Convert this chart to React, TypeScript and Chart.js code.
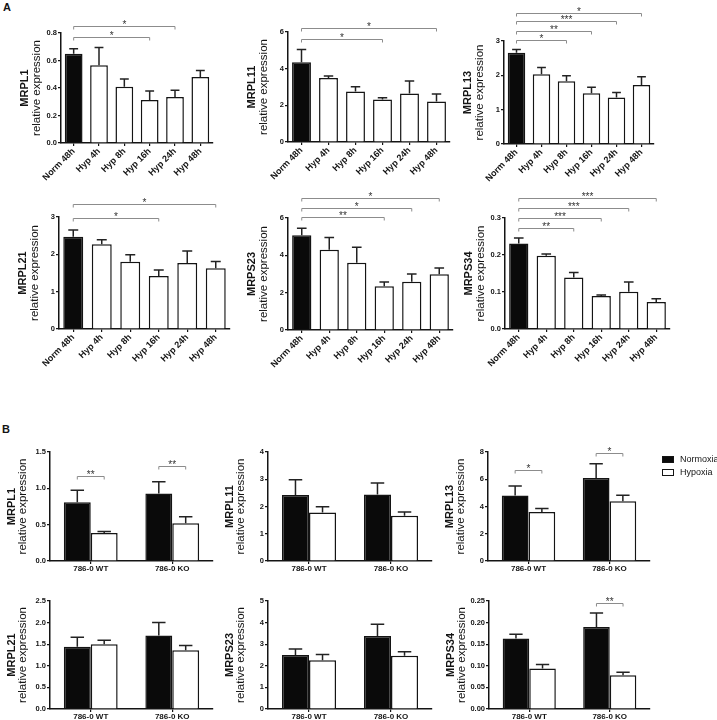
import React, { useEffect, useRef } from "react";
import { Chart, registerables } from "chart.js";
Chart.register(...registerables);

const FONT = "'Liberation Sans', Arial, Helvetica, sans-serif";

// ---------- categories / series ----------
const TIME_CATEGORIES = ["Norm 48h", "Hyp 4h", "Hyp 8h", "Hyp 16h", "Hyp 24h", "Hyp 48h"];
const CELL_CATEGORIES = ["786-0 WT", "786-0 KO"];
const SERIES_NAMES = ["Normoxia", "Hypoxia"];

// ---------- Panel A data (mean, SEM) ----------
const A_MRPL1_MEAN = [0.649, 0.566, 0.41, 0.312, 0.334, 0.48];
const A_MRPL1_SEM = [0.036, 0.129, 0.056, 0.066, 0.049, 0.047];
const A_MRPL1_TICKS = ["0.0", "0.2", "0.4", "0.6", "0.8"];

const A_MRPL11_MEAN = [4.35, 3.49, 2.76, 2.32, 2.65, 2.21];
const A_MRPL11_SEM = [0.7, 0.11, 0.26, 0.09, 0.68, 0.41];
const A_MRPL11_TICKS = ["0", "2", "4", "6"];

const A_MRPL13_MEAN = [2.66, 2.03, 1.83, 1.48, 1.355, 1.72];
const A_MRPL13_SEM = [0.09, 0.2, 0.16, 0.17, 0.145, 0.24];
const A_MRPL13_TICKS = ["0", "1", "2", "3"];

const A_MRPL21_MEAN = [2.47, 2.27, 1.8, 1.42, 1.77, 1.63];
const A_MRPL21_SEM = [0.18, 0.12, 0.19, 0.16, 0.32, 0.18];
const A_MRPL21_TICKS = ["0", "1", "2", "3"];

const A_MRPS23_MEAN = [5.07, 4.3, 3.6, 2.34, 2.59, 2.98];
const A_MRPS23_SEM = [0.38, 0.66, 0.83, 0.23, 0.41, 0.34];
const A_MRPS23_TICKS = ["0", "2", "4", "6"];

const A_MRPS34_MEAN = [0.231, 0.198, 0.139, 0.0895, 0.101, 0.073];
const A_MRPS34_SEM = [0.015, 0.0045, 0.014, 0.0025, 0.026, 0.009];
const A_MRPS34_TICKS = ["0.0", "0.1", "0.2", "0.3"];

// ---------- Panel B data (Normoxia / Hypoxia, mean, SEM) ----------
const B_MRPL1_NORM = [0.81, 0.93];
const B_MRPL1_NORM_SEM = [0.165, 0.16];
const B_MRPL1_HYP = [0.385, 0.52];
const B_MRPL1_HYP_SEM = [0.02, 0.09];
const B_MRPL1_TICKS = ["0.0", "0.5", "1.0", "1.5"];

const B_MRPL11_NORM = [2.42, 2.44];
const B_MRPL11_NORM_SEM = [0.56, 0.42];
const B_MRPL11_HYP = [1.78, 1.66];
const B_MRPL11_HYP_SEM = [0.21, 0.14];
const B_MRPL11_TICKS = ["0", "1", "2", "3", "4"];

const B_MRPL13_NORM = [4.8, 6.09];
const B_MRPL13_NORM_SEM = [0.7, 1.04];
const B_MRPL13_HYP = [3.6, 4.39];
const B_MRPL13_HYP_SEM = [0.25, 0.43];
const B_MRPL13_TICKS = ["0", "2", "4", "6", "8"];

const B_MRPL21_NORM = [1.44, 1.7];
const B_MRPL21_NORM_SEM = [0.22, 0.3];
const B_MRPL21_HYP = [1.5, 1.36];
const B_MRPL21_HYP_SEM = [0.09, 0.11];
const B_MRPL21_TICKS = ["0.0", "0.5", "1.0", "1.5", "2.0", "2.5"];

const B_MRPS23_NORM = [2.5, 3.38];
const B_MRPS23_NORM_SEM = [0.28, 0.54];
const B_MRPS23_HYP = [2.26, 2.46];
const B_MRPS23_HYP_SEM = [0.26, 0.19];
const B_MRPS23_TICKS = ["0", "1", "2", "3", "4", "5"];

const B_MRPS34_NORM = [0.163, 0.19];
const B_MRPS34_NORM_SEM = [0.01, 0.032];
const B_MRPS34_HYP = [0.094, 0.078];
const B_MRPS34_HYP_SEM = [0.009, 0.007];
const B_MRPS34_TICKS = ["0.00", "0.05", "0.10", "0.15", "0.20", "0.25"];

// ---------- significance brackets: [dataset, index] -> [dataset, index], level (data units), label ----------
type Bracket = { a: [number, number]; b: [number, number]; y: number; label: string };
const A_MRPL1_SIG: Bracket[] = [
  { a: [0, 0], b: [0, 3], y: 0.771, label: "*" },
  { a: [0, 0], b: [0, 4], y: 0.851, label: "*" },
];
const A_MRPL11_SIG: Bracket[] = [
  { a: [0, 0], b: [0, 3], y: 5.615, label: "*" },
  { a: [0, 0], b: [0, 5], y: 6.22, label: "*" },
];
const A_MRPL13_SIG: Bracket[] = [
  { a: [0, 0], b: [0, 2], y: 3.02, label: "*" },
  { a: [0, 0], b: [0, 3], y: 3.28, label: "**" },
  { a: [0, 0], b: [0, 4], y: 3.57, label: "***" },
  { a: [0, 0], b: [0, 5], y: 3.83, label: "*" },
];
const A_MRPL21_SIG: Bracket[] = [
  { a: [0, 0], b: [0, 3], y: 2.965, label: "*" },
  { a: [0, 0], b: [0, 5], y: 3.34, label: "*" },
];
const A_MRPS23_SIG: Bracket[] = [
  { a: [0, 0], b: [0, 3], y: 6.07, label: "**" },
  { a: [0, 0], b: [0, 4], y: 6.55, label: "*" },
  { a: [0, 0], b: [0, 5], y: 7.09, label: "*" },
];
const A_MRPS34_SIG: Bracket[] = [
  { a: [0, 0], b: [0, 2], y: 0.274, label: "**" },
  { a: [0, 0], b: [0, 3], y: 0.301, label: "***" },
  { a: [0, 0], b: [0, 4], y: 0.328, label: "***" },
  { a: [0, 0], b: [0, 5], y: 0.355, label: "***" },
];
const B_MRPL1_SIG: Bracket[] = [
  { a: [0, 0], b: [1, 0], y: 1.17, label: "**" },
  { a: [0, 1], b: [1, 1], y: 1.31, label: "**" },
];
const B_MRPL13_SIG: Bracket[] = [
  { a: [0, 0], b: [1, 0], y: 6.67, label: "*" },
  { a: [0, 1], b: [1, 1], y: 7.96, label: "*" },
];
const B_MRPS34_SIG: Bracket[] = [{ a: [0, 1], b: [1, 1], y: 0.246, label: "**" }];

// ---------- panel specs (layout kept separate from data) ----------
type PanelSpec = {
  kind: "time" | "cell";
  gene: string;
  ticks: string[];
  means: number[][];
  sems: number[][];
  brackets: Bracket[];
  area: [number, number, number, number];
  legend?: boolean;
};

const PANELS: PanelSpec[] = [
  { kind: "time", gene: "MRPL1", ticks: A_MRPL1_TICKS, means: [A_MRPL1_MEAN], sems: [A_MRPL1_SEM], brackets: A_MRPL1_SIG, area: [61, 33, 213, 143] },
  { kind: "time", gene: "MRPL11", ticks: A_MRPL11_TICKS, means: [A_MRPL11_MEAN], sems: [A_MRPL11_SEM], brackets: A_MRPL11_SIG, area: [288, 32, 450, 142] },
  { kind: "time", gene: "MRPL13", ticks: A_MRPL13_TICKS, means: [A_MRPL13_MEAN], sems: [A_MRPL13_SEM], brackets: A_MRPL13_SIG, area: [504, 41, 654, 144] },
  { kind: "time", gene: "MRPL21", ticks: A_MRPL21_TICKS, means: [A_MRPL21_MEAN], sems: [A_MRPL21_SEM], brackets: A_MRPL21_SIG, area: [59, 217, 230, 329] },
  { kind: "time", gene: "MRPS23", ticks: A_MRPS23_TICKS, means: [A_MRPS23_MEAN], sems: [A_MRPS23_SEM], brackets: A_MRPS23_SIG, area: [288, 218, 453, 330] },
  { kind: "time", gene: "MRPS34", ticks: A_MRPS34_TICKS, means: [A_MRPS34_MEAN], sems: [A_MRPS34_SEM], brackets: A_MRPS34_SIG, area: [505, 218, 670, 329] },
  { kind: "cell", gene: "MRPL1", ticks: B_MRPL1_TICKS, means: [B_MRPL1_NORM, B_MRPL1_HYP], sems: [B_MRPL1_NORM_SEM, B_MRPL1_HYP_SEM], brackets: B_MRPL1_SIG, area: [50, 452, 213, 561] },
  { kind: "cell", gene: "MRPL11", ticks: B_MRPL11_TICKS, means: [B_MRPL11_NORM, B_MRPL11_HYP], sems: [B_MRPL11_NORM_SEM, B_MRPL11_HYP_SEM], brackets: [], area: [268, 452, 432, 561] },
  { kind: "cell", gene: "MRPL13", ticks: B_MRPL13_TICKS, means: [B_MRPL13_NORM, B_MRPL13_HYP], sems: [B_MRPL13_NORM_SEM, B_MRPL13_HYP_SEM], brackets: B_MRPL13_SIG, area: [488, 452, 650, 561], legend: true },
  { kind: "cell", gene: "MRPL21", ticks: B_MRPL21_TICKS, means: [B_MRPL21_NORM, B_MRPL21_HYP], sems: [B_MRPL21_NORM_SEM, B_MRPL21_HYP_SEM], brackets: [], area: [50, 601, 213, 709] },
  { kind: "cell", gene: "MRPS23", ticks: B_MRPS23_TICKS, means: [B_MRPS23_NORM, B_MRPS23_HYP], sems: [B_MRPS23_NORM_SEM, B_MRPS23_HYP_SEM], brackets: [], area: [268, 601, 432, 709] },
  { kind: "cell", gene: "MRPS34", ticks: B_MRPS34_TICKS, means: [B_MRPS34_NORM, B_MRPS34_HYP], sems: [B_MRPS34_NORM_SEM, B_MRPS34_HYP_SEM], brackets: B_MRPS34_SIG, area: [489, 601, 650, 709] },
];

const INK = "#141414";
const PAD_L = 54;
const PAD_T = 40;
const Y_W = 24;

function Panel({ spec }: { spec: PanelSpec }) {
  const ref = useRef<HTMLCanvasElement>(null);
  const [L, T, R, B] = spec.area;
  const xH = spec.kind === "time" ? 46 : 16;
  const padR = spec.legend ? 717 - R : 8;
  const w = R - L + PAD_L + padR;
  const h = B - T + PAD_T + xH + 2;
  const left = L - PAD_L;
  const top = T - PAD_T;

  useEffect(() => {
    const canvas = ref.current!;
    const isTime = spec.kind === "time";
    const labels = isTime ? TIME_CATEGORIES : CELL_CATEGORIES;
    const tickVals = spec.ticks.map((t) => parseFloat(t));
    const maxV = tickVals[tickVals.length - 1];
    const step = tickVals[1] - tickVals[0];

    const datasets = isTime
      ? [
          {
            label: spec.gene,
            data: spec.means[0],
            backgroundColor: spec.means[0].map((_, i) => (i === 0 ? "#0a0a0a" : "#ffffff")),
            borderColor: INK,
            borderWidth: 1.5,
            barPercentage: 0.7,
            categoryPercentage: 1,
          },
        ]
      : spec.means.map((m, d) => ({
          label: SERIES_NAMES[d],
          data: m,
          backgroundColor: d === 0 ? "#0a0a0a" : "#ffffff",
          borderColor: INK,
          borderWidth: 1.5,
          barPercentage: 1,
          categoryPercentage: 0.66,
        }));

    const errorBars = {
      id: "errorBars",
      afterDatasetsDraw(chart: any) {
        const { ctx } = chart;
        const yS = chart.scales.y;
        ctx.save();
        ctx.strokeStyle = "#222";
        ctx.lineWidth = 1.5;
        spec.means.forEach((m, d) => {
          const meta = chart.getDatasetMeta(d);
          meta.data.forEach((el: any, i: number) => {
            const yTop = yS.getPixelForValue(m[i] + spec.sems[d][i]);
            const cap = el.width * 0.5;
            ctx.beginPath();
            ctx.moveTo(el.x, el.y);
            ctx.lineTo(el.x, yTop);
            ctx.moveTo(el.x - cap / 2, yTop);
            ctx.lineTo(el.x + cap / 2, yTop);
            ctx.stroke();
          });
        });
        ctx.restore();
      },
    };

    const brackets = {
      id: "brackets",
      afterDraw(chart: any) {
        const { ctx } = chart;
        const yS = chart.scales.y;
        ctx.save();
        spec.brackets.forEach((b) => {
          const xa = chart.getDatasetMeta(b.a[0]).data[b.a[1]].x;
          const xb = chart.getDatasetMeta(b.b[0]).data[b.b[1]].x;
          const y = Math.round(yS.getPixelForValue(b.y)) + 0.5;
          ctx.strokeStyle = "#8c8c8c";
          ctx.lineWidth = 1;
          ctx.beginPath();
          ctx.moveTo(xa, y + 3);
          ctx.lineTo(xa, y);
          ctx.lineTo(xb, y);
          ctx.lineTo(xb, y + 3);
          ctx.stroke();
          ctx.fillStyle = "#333";
          ctx.font = `10px ${FONT}`;
          ctx.textAlign = "center";
          ctx.textBaseline = "alphabetic";
          ctx.fillText(b.label, (xa + xb) / 2, y + 1.5);
        });
        ctx.restore();
      },
    };

    const yTitle = {
      id: "yTitle",
      afterDraw(chart: any) {
        const { ctx, chartArea } = chart;
        const cy = (chartArea.top + chartArea.bottom) / 2;
        const geneOff = isTime ? 36 : 38;
        const relOff = isTime ? 24 : 27;
        ctx.save();
        ctx.fillStyle = INK;
        ctx.textAlign = "center";
        ctx.textBaseline = "middle";
        ctx.save();
        ctx.translate(chartArea.left - geneOff, cy);
        ctx.rotate(-Math.PI / 2);
        ctx.font = `bold 11px ${FONT}`;
        ctx.fillText(spec.gene, 0, 0);
        ctx.restore();
        ctx.save();
        ctx.translate(chartArea.left - relOff, cy);
        ctx.rotate(-Math.PI / 2);
        ctx.font = `11.5px ${FONT}`;
        ctx.fillText("relative expression", 0, 0);
        ctx.restore();
        ctx.restore();
      },
    };

    const legendPlugin = {
      id: "sideLegend",
      afterDraw(chart: any) {
        if (!spec.legend) return;
        const { ctx, chartArea } = chart;
        const x0 = chartArea.right + 12;
        const y0 = chartArea.top + 4;
        ctx.save();
        chart.data.datasets.forEach((ds: any, i: number) => {
          const y = Math.round(y0 + i * 12.5);
          ctx.fillStyle = ds.backgroundColor;
          ctx.fillRect(x0, y, 12, 7);
          ctx.strokeStyle = INK;
          ctx.lineWidth = 1;
          ctx.strokeRect(x0 + 0.5, y + 0.5, 11, 6);
          ctx.fillStyle = INK;
          ctx.font = `9px ${FONT}`;
          ctx.textAlign = "left";
          ctx.textBaseline = "middle";
          ctx.fillText(ds.label, x0 + 18, y + 4);
        });
        ctx.restore();
      },
    };

    const chart = new Chart(canvas, {
      type: "bar",
      data: { labels, datasets: datasets as any },
      options: {
        responsive: false,
        animation: false,
        devicePixelRatio: 1,
        layout: { padding: { left: PAD_L - Y_W, top: PAD_T, right: padR, bottom: 2 } },
        plugins: { legend: { display: false }, tooltip: { enabled: false } },
        scales: {
          x: {
            type: "category",
            offset: true,
            z: 1,
            grid: {
              display: true,
              drawOnChartArea: false,
              drawTicks: true,
              tickLength: 3,
              color: INK,
              lineWidth: 1.2,
              offset: false,
            },
            border: { display: true, color: INK, width: 1.5 },
            ticks: {
              color: INK,
              autoSkip: false,
              padding: 0,
              maxRotation: isTime ? 45 : 0,
              minRotation: isTime ? 45 : 0,
              font: { family: FONT, size: isTime ? 9 : 8, weight: "bold" },
            },
            afterFit: (s: any) => {
              s.height = xH;
            },
          } as any,
          y: {
            min: 0,
            max: maxV,
            grid: {
              display: true,
              drawOnChartArea: false,
              drawTicks: true,
              tickLength: 3,
              color: INK,
              lineWidth: 1.2,
            },
            border: { display: true, color: INK, width: 1.5 },
            ticks: {
              stepSize: step,
              color: INK,
              padding: 1,
              font: { family: FONT, size: 7.5, weight: "bold" },
              callback: (v: any, i: number) => spec.ticks[i] ?? String(v),
            },
            afterFit: (s: any) => {
              s.width = Y_W;
            },
          } as any,
        },
      },
      plugins: [errorBars, brackets, yTitle, legendPlugin],
    });
    return () => chart.destroy();
  }, []);

  return (
    <canvas
      ref={ref}
      width={w}
      height={h}
      style={{ position: "absolute", left, top, width: w, height: h }}
    />
  );
}

export default function App() {
  return (
    <div
      style={{
        position: "absolute",
        left: 0,
        top: 0,
        width: 717,
        height: 720,
        background: "#ffffff",
        overflow: "hidden",
      }}
    >
      <div style={{ position: "absolute", left: 3, top: 2, font: `bold 11px ${FONT}`, lineHeight: "11px", color: INK }}>A</div>
      <div style={{ position: "absolute", left: 2, top: 424, font: `bold 11px ${FONT}`, lineHeight: "11px", color: INK }}>B</div>
      {PANELS.map((p, i) => (
        <Panel key={i} spec={p} />
      ))}
    </div>
  );
}
